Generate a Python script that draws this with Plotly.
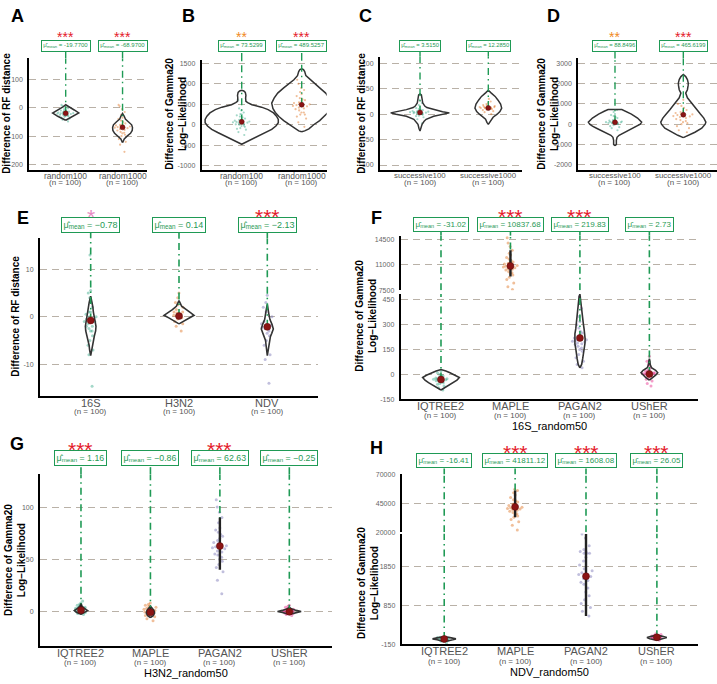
import plotly.graph_objects as go

W, H = 717, 684
def PX(x): return x / W
def PY(y): return 1 - y / H

FONT = "Liberation Sans, Arial, sans-serif"
GREEN = "#1f9a55"
MEANRED = "#8b1414"
OUTLINE = "#333333"
GRID = "#b9b1a7"
STAR_COLORS = {"***": "#e41a2a", "**": "#f08a24", "*": "#e78ac3", "": "#000"}
PT_COLORS = ["rgba(27,158,119,0.4)", "rgba(217,95,2,0.4)", "rgba(117,112,179,0.45)", "rgba(231,41,138,0.45)"]
TXT_SHIFT = -1.0  # visual centring of annotation text

# ---------------- data ----------------
A_categories = ["random100", "random1000"]
A_means = [-19.77, -68.97]
A_labels = ["-19.7700", "-68.9700"]
A_stars = ["***", "***"]
A_points = [
    [-48, -42, -38, -35, -32, -30, -28, -26, -25, -24, -22, -21, -20, -19, -18, -17, -16, -15, -14, -12, -10, -8, -5, -2, 2, 6, 10, -30, -22, -12],
    [-155, -130, -120, -110, -100, -95, -90, -85, -80, -78, -75, -72, -70, -68, -66, -64, -62, -60, -58, -55, -50, -45, -40, -35, -25, -15, -5, 5, 10, -88],
]
A_vy = [[-44, -40, -30, -18.5, -8, 4, 10.5],
        [-123, -110, -100, -90, -80, -70, -60, -50, -40, -30, -20]]
A_vw = [[0, 0.04, 0.14, 0.23, 0.15, 0.04, 0],
        [0, 0.03, 0.08, 0.14, 0.17, 0.175, 0.16, 0.11, 0.05, 0.03, 0]]

B_categories = ["random100", "random1000"]
B_means = [73.5299, 489.5257]
B_labels = ["73.5299", "489.5257"]
B_stars = ["**", "***"]
B_points = [
    [-250, -180, -120, -80, -50, -20, 0, 20, 40, 60, 80, 100, 120, 150, 180, 200, 230, 260, 300, 350, 400, -100, 10, 70, 130, -30, 50, 90, 250, 600],
    [-50, 60, 150, 200, 250, 300, 350, 380, 420, 450, 480, 500, 520, 550, 580, 600, 650, 700, 750, 800, 850, 900, 1000, 1100, 400, 460, 530, 620, 300, 250],
]
B_vy = [[-477, -420, -350, -273, -190, -113, -30, 48, 130, 210, 290, 370, 430, 491, 540, 573, 650, 720, 790, 825, 840],
        [-170, -150, -100, 0, 100, 200, 300, 400, 530, 650, 774, 900, 1016, 1100, 1200, 1300, 1350, 1370]]
B_vw = [[0, 0.08, 0.18, 0.28, 0.4, 0.5, 0.57, 0.61, 0.61, 0.58, 0.53, 0.44, 0.33, 0.17, 0.1, 0.07, 0.065, 0.07, 0.06, 0.035, 0],
        [0, 0.05, 0.12, 0.2, 0.3, 0.38, 0.44, 0.48, 0.5, 0.46, 0.4, 0.3, 0.21, 0.13, 0.07, 0.05, 0.03, 0]]

C_categories = ["successive100", "successive1000"]
C_means = [3.515, 12.285]
C_labels = ["3.5150", "12.2850"]
C_stars = ["", ""]
C_points = [
    [-18, -10, -6, -3, -1, 0, 1, 2, 3, 3, 4, 5, 5, 6, 7, 8, 10, 12, 14, 18, 22, 28, 2, 4, 0, 6, -4, 9],
    [0, 4, 6, 8, 10, 11, 12, 12, 13, 14, 15, 16, 18, 20, 22, 25, 30, 9, 13, 17, 11, 14],
]
C_vy = [[-33, -28, -20, -14, -10, -4, 0, 2.6, 5, 9, 13, 16, 22, 30, 38, 40],
        [-20, -16, -10, -6, 0, 5, 12, 20, 28, 35, 42, 47]]
C_vw = [[0, 0.015, 0.03, 0.06, 0.09, 0.2, 0.35, 0.43, 0.33, 0.2, 0.1, 0.07, 0.04, 0.03, 0.02, 0],
        [0, 0.02, 0.04, 0.07, 0.13, 0.17, 0.196, 0.18, 0.14, 0.1, 0.04, 0]]

D_categories = ["successive100", "successive1000"]
D_means = [88.8496, 465.6199]
D_labels = ["88.8496", "465.6199"]
D_stars = ["**", "***"]
D_points = [
    [-300, -200, -100, -50, 0, 20, 40, 60, 80, 100, 120, 150, 200, 250, 300, 350, 400, 450, 500, 600, 700, 10, 90, 180, -150, 70, 130],
    [-400, -300, -200, -100, 0, 50, 100, 200, 250, 300, 350, 400, 450, 500, 550, 600, 650, 700, 800, 900, 1000, 1200, 150, 380, 480],
]
D_vy = [[-1070, -1000, -800, -650, -550, -400, -200, -100, 0, 100, 300, 500, 650, 718, 730],
        [-665, -550, -400, -200, 0, 100, 300, 500, 700, 900, 1046, 1300, 1535, 1700, 1900, 2023, 2200, 2350, 2450]]
D_vw = [[0, 0.02, 0.02, 0.03, 0.06, 0.15, 0.27, 0.33, 0.37, 0.39, 0.33, 0.24, 0.15, 0.1, 0],
        [0, 0.08, 0.17, 0.27, 0.32, 0.33, 0.3, 0.25, 0.2, 0.15, 0.12, 0.06, 0.035, 0.06, 0.07, 0.073, 0.06, 0.035, 0]]

E_categories = ["16S", "H3N2", "NDV"]
E_means = [-0.78, 0.14, -2.13]
E_labels = ["\u22120.78", "0.14", "\u22122.13"]
E_stars = ["*", "", "***"]
E_points = [
    [-14.6, -8, -7, -6, -5, -4, -3, -2.5, -2, -1.5, -1, -0.5, 0, 0.5, 1, 2, 3, 4, 5, 5.5, 13, -2, -1, 0, 1, -3],
    [-3, -2, -1.5, -1, -0.5, 0, 0, 0.3, 0.5, 1, 1, 1.5, 2, 2.5, 3, 4, 5, 0.2, 0.8, -0.2],
    [-14, -9, -8, -6, -5, -4, -3.5, -3, -2.5, -2, -2, -1.5, -1, 0, 1, 2, 3, 4.5, -2.2, -1.8],
]
E_vy = [[-8.2, -7, -6, -5, -4, -3, -2, -1, 0, 1, 2, 3, 4.3],
        [-1.5, -0.9, -0.3, 0.3, 0.84, 1.5, 2.2, 2.8, 3.4],
        [-8.2, -7, -6, -5, -4.2, -3.5, -2.6, -1.6, -0.6, 0.5, 1.5, 2.6]]
E_vw = [[0, 0.012, 0.018, 0.027, 0.042, 0.056, 0.06, 0.05, 0.038, 0.03, 0.025, 0.017, 0],
        [0, 0.057, 0.11, 0.17, 0.13, 0.075, 0.03, 0.015, 0],
        [0, 0.01, 0.014, 0.02, 0.035, 0.05, 0.068, 0.053, 0.03, 0.018, 0.012, 0]]
E_boxes = [None, None, None]

F_categories = ["IQTREE2", "MAPLE", "PAGAN2", "UShER"]
F_means = [-31.02, 10837.68, 219.83, 2.73]
F_labels = ["-31.02", "10837.68", "219.83", "2.73"]
F_stars = ["", "***", "***", ""]
F_points = [
    [-95, -80, -70, -60, -55, -50, -45, -40, -38, -35, -32, -30, -28, -25, -22, -20, -15, -10, -5, 0, 10, 20, -33, -27, -42],
    [7600, 8000, 8500, 9000, 9300, 9600, 9900, 10100, 10300, 10500, 10700, 10800, 10900, 11000, 11100, 11200, 11400, 11600, 11800, 12000, 12300, 12600, 13000, 13500, 14000, 14700, 10600, 11300, 10400, 9800],
    [40, 60, 80, 100, 120, 140, 150, 160, 170, 180, 190, 200, 210, 220, 230, 240, 250, 260, 280, 300, 320, 350, 400, 470, 195, 215, 205, 185],
    [-70, -55, -40, -30, -20, -10, -5, 0, 3, 5, 8, 10, 15, 20, 25, 30, 40, 50, 60, 80, 110, 0, 2, -2, 6],
]
F_vy = [[-94.5, -85, -70, -50, -35, -18.5, -5, 10, 20, 29],
        [],
        [39, 60, 95, 130, 155, 185, 215, 245, 275, 304, 340, 384, 430, 470, 485],
        [-35, -20, -5, 10, 25, 40, 60, 80, 95]]
F_vw = [[0, 0.04, 0.1, 0.18, 0.23, 0.264, 0.21, 0.13, 0.07, 0],
        [],
        [0, 0.025, 0.04, 0.055, 0.06, 0.072, 0.075, 0.072, 0.06, 0.05, 0.04, 0.03, 0.02, 0.012, 0],
        [0, 0.05, 0.09, 0.12, 0.09, 0.03, 0.012, 0.008, 0]]
F_boxes = [None, (9400, 13000), None, None]

G_categories = ["IQTREE2", "MAPLE", "PAGAN2", "UShER"]
G_means = [1.16, -0.86, 62.63, -0.25]
G_labels = ["1.16", "\u22120.86", "62.63", "\u22120.25"]
G_stars = ["***", "", "***", ""]
G_points = [
    [-3, -2, -1, 0, 0.5, 1, 1, 1.5, 2, 2, 2.5, 3, 3.5, 4, 5, 6, 7, 8, 10, 1.2, 0.8],
    [-9, -7, -5, -4, -3, -2, -2, -1, -1, 0, 0, 1, 2, 3, 4, 5, 6, 7, 8, -0.5],
    [17, 30, 38, 42, 45, 48, 50, 52, 54, 55, 57, 58, 60, 61, 62, 63, 65, 66, 68, 70, 72, 74, 76, 78, 80, 85, 90, 95, 100, 107],
    [-4, -3, -2, -1.5, -1, -0.5, 0, 0, 0, 0.5, 1, 1, 1.5, 2, 3, 4, 5, 6, -0.2, 0.2],
]
G_vy = [[-2.8, -1, 0.8, 3, 5.4, 8],
        [-6, -4, -1.5, 1, 3.5, 5],
        [],
        [-2.8, -1, 0, 1, 2.5, 4]]
G_vw = [[0, 0.06, 0.096, 0.05, 0.01, 0],
        [0, 0.04, 0.06, 0.05, 0.02, 0],
        [],
        [0, 0.1, 0.17, 0.1, 0.03, 0]]
G_boxes = [(-2, 7), (-4, 4), (40, 90), None]

H_categories = ["IQTREE2", "MAPLE", "PAGAN2", "UShER"]
H_means = [-16.41, 41811.12, 1608.08, 26.05]
H_labels = ["-16.41", "41811.12", "1608.08", "26.05"]
H_stars = ["", "***", "***", "***"]
H_points = [
    [-120, -80, -60, -40, -30, -20, -15, -10, -5, 0, 10, 20, 30, -25, -18],
    [22000, 26000, 29000, 31000, 33000, 34000, 35000, 36000, 37000, 38000, 39000, 40000, 41000, 42000, 43000, 44000, 45000, 46000, 47000, 48000, 50000, 52000, 54000, 56000, 57000, 39500, 40500, 41500],
    [580, 700, 800, 900, 1000, 1100, 1200, 1300, 1400, 1500, 1550, 1600, 1650, 1700, 1800, 1900, 2000, 2100, 2200, 2200, 2200, 2250, 2250, 2300, 2400, 2600, 2700, 1450, 1750],
    [-50, -20, 0, 10, 15, 20, 25, 30, 35, 40, 50, 60, 80, 100, 120, 22, 28],
]
H_vy = [[-90, -40, -16, 10, 47], [], [], [-50, -10, 20, 50, 85]]
H_vw = [[0, 0.1, 0.165, 0.1, 0], [], [], [0, 0.1, 0.14, 0.08, 0]]
H_boxes = [None, (33000, 56000), (580, 2700), None]

N_LABEL = "(n = 100)"

# ---------------- layout geometry ----------------
panels = [
    dict(letter="A", letter_xy=(17, 12), cats=A_categories, means=A_means, labels=A_labels, stars=A_stars,
         points=A_points, vy=A_vy, vw=A_vw, boxes=[None, None], xid="x", xdom=(29.3, 147), xr=(-0.64, 1.43),
         ysegs=[("y", (167.3, 55), (-217.4, 173.2), [-200, -100, 0, 100])],
         big=False, lab_font=6.0, cat_font=8.5, star_py=30, lab_py=42.7, cat_py=174.3, n_py=181.7, xtitle=None,
         ytitle="Difference of RF distance", ytitle_xy=(7, 111)),
    dict(letter="B", letter_xy=(188, 12), cats=B_categories, means=B_means, labels=B_labels, stars=B_stars,
         points=B_points, vy=B_vy, vw=B_vw, boxes=[None, None], xid="x2", xdom=(201.7, 326.7), xr=(-0.667, 1.417),
         ysegs=[("y2", (167.3, 56.7), (-1096, 1580), [-1000, -500, 0, 500, 1000, 1500])],
         big=False, lab_font=6.0, cat_font=8.5, star_py=30, lab_py=42.7, cat_py=174.3, n_py=181.7, xtitle=None,
         ytitle="Difference of Gamma20<br>Log\u2212Likelihood", ytitle_xy=(176, 111)),
    dict(letter="C", letter_xy=(365, 12), cats=C_categories, means=C_means, labels=C_labels, stars=C_stars,
         points=C_points, vy=C_vy, vw=C_vw, boxes=[None, None], xid="x3", xdom=(380, 521.7), xr=(-0.586, 1.489),
         ysegs=[("y3", (167.3, 53.3), (-109, 113), [-100, -50, 0, 50, 100])],
         big=False, lab_font=5.8, cat_font=7.9, star_py=30, lab_py=42.7, cat_py=174.3, n_py=181.7, xtitle=None,
         ytitle="Difference of RF distance", ytitle_xy=(362, 111)),
    dict(letter="D", letter_xy=(553, 12), cats=D_categories, means=D_means, labels=D_labels, stars=D_stars,
         points=D_points, vy=D_vy, vw=D_vw, boxes=[None, None], xid="x4", xdom=(578.3, 717), xr=(-0.537, 1.493),
         ysegs=[("y4", (167.3, 55), (-2243, 3245), [-2000, -1000, 0, 1000, 2000, 3000])],
         big=False, lab_font=5.8, cat_font=7.9, star_py=30, lab_py=42.7, cat_py=174.3, n_py=181.7, xtitle=None,
         ytitle="Difference of Gamma20<br>Log\u2212Likelihood", ytitle_xy=(548, 111)),
    dict(letter="E", letter_xy=(23, 216.7), cats=E_categories, means=E_means, labels=E_labels, stars=E_stars,
         points=E_points, vy=E_vy, vw=E_vw, boxes=E_boxes, xid="x5", xdom=(40, 318), xr=(-0.574, 2.574),
         ysegs=[("y5", (395.7, 236.7), (-16.6, 16.5), [-10, 0, 10])],
         big=True, lab_font=9.0, cat_font=11, star_py=210, lab_py=223, cat_py=404.3, n_py=412.5, xtitle=None,
         ytitle="Difference of RF distance", ytitle_xy=(16, 316), jit=0.16),
    dict(letter="F", letter_xy=(376.7, 216.7), cats=F_categories, means=F_means, labels=F_labels, stars=F_stars,
         points=F_points, vy=F_vy, vw=F_vw, boxes=F_boxes, xid="x6", xdom=(400.7, 698), xr=(-0.58, 3.70),
         ysegs=[("y6", (399.3, 293), (-150, 485.8), [-150, 0, 150, 300, 450]),
                ("y7", (289.3, 234), (7500, 15003), [7500, 11000, 14500])],
         big=True, lab_font=8.0, cat_font=11, star_py=210, lab_py=222.7, cat_py=406.7, n_py=416.7, xtitle=("16S_random50", 427.7),
         ytitle="Difference of Gamma20<br>Log\u2212Likelihood", ytitle_xy=(366, 315), jit=0.22),
    dict(letter="G", letter_xy=(16.7, 445), cats=G_categories, means=G_means, labels=G_labels, stars=G_stars,
         points=G_points, vy=G_vy, vw=G_vw, boxes=G_boxes, xid="x7", xdom=(40, 331.7), xr=(-0.59, 3.61),
         ysegs=[("y8", (648.3, 475), (-32.8, 131.6), [0, 50, 100])],
         big=True, lab_font=8.8, cat_font=11, star_py=445, lab_py=459, cat_py=656.7, n_py=666, xtitle=("H3N2_random50", 676.7),
         ytitle="Difference of Gamma20<br>Log\u2212Likelihood", ytitle_xy=(15, 561.7), jit=0.22),
    dict(letter="H", letter_xy=(376.7, 448.3), cats=H_categories, means=H_means, labels=H_labels, stars=H_stars,
         points=H_points, vy=H_vy, vw=H_vw, boxes=H_boxes, xid="x8", xdom=(401.7, 698), xr=(-0.60, 3.58),
         ysegs=[("y9", (646.7, 535), (-150, 2714), [-150, 850, 1850]),
                ("y10", (533.7, 475), (20000, 70000), [20000, 45000, 70000])],
         big=True, lab_font=8.0, cat_font=11, star_py=447.7, lab_py=461.7, cat_py=655, n_py=665, xtitle=("NDV_random50", 676),
         ytitle="Difference of Gamma20<br>Log\u2212Likelihood", ytitle_xy=(368, 585), jit=0.22),
]

fig = go.Figure()
layout_axes = {}
annotations = []
shapes = []

def axkey(aid):
    return ("xaxis" if aid[0] == "x" else "yaxis") + aid[1:]

for p in panels:
    big = p["big"]
    xid = p["xid"]
    low_yid = p["ysegs"][0][0]
    layout_axes[axkey(xid)] = dict(
        domain=[PX(p["xdom"][0]), PX(p["xdom"][1])], range=list(p["xr"]), anchor=low_yid,
        showgrid=False, zeroline=False, showline=True, linecolor="black", linewidth=2,
        showticklabels=False, ticks="", fixedrange=True)
    for (yid, (pb, pt), yr, tv) in p["ysegs"]:
        layout_axes[axkey(yid)] = dict(
            domain=[PY(pb), PY(pt)], range=list(yr), anchor=xid,
            showgrid=True, gridcolor=GRID, griddash="7px,5px", gridwidth=1.3,
            zeroline=False, showline=True, linecolor="black", linewidth=2,
            tickvals=tv, ticktext=[str(v) for v in tv], ticks="", ticklabelstandoff=3,
            tickfont=dict(size=7, color="#666666", family=FONT), fixedrange=True)

    seg_info = [(yid, yr) for (yid, _, yr, _) in p["ysegs"]]
    top_py = p["ysegs"][-1][1][1]
    jit = p.get("jit", 0.3)
    lw = 1.6 if big else 1.5

    def seg_of(v):
        sel = seg_info[0][0]
        for yid, yr in seg_info:
            if v >= yr[0]:
                sel = yid
        return sel

    for i, cat in enumerate(p["cats"]):
        m = p["means"][i]
        mseg = seg_of(m)
        # points, split by segment
        for yid, yr in seg_info:
            vals = [v for v in p["points"][i] if seg_of(v) == yid]
            if vals:
                fig.add_trace(go.Box(
                    x=[i] * len(vals), y=vals, xaxis=xid, yaxis=yid, width=jit, jitter=1, pointpos=0,
                    boxpoints="all", fillcolor="rgba(0,0,0,0)", line=dict(width=0, color="rgba(0,0,0,0)"),
                    marker=dict(size=3 if big else 2.2, color=PT_COLORS[i], line=dict(width=0)),
                    showlegend=False, hoverinfo="skip"))
        # violin outline
        vy, vw = p["vy"][i], p["vw"][i]
        if vy:
            xs = [i + w for w in vw] + [i - w for w in reversed(vw)]
            ys = list(vy) + list(reversed(vy))
            fig.add_trace(go.Scatter(x=xs, y=ys, xaxis=xid, yaxis=mseg, mode="lines",
                                     line=dict(color=OUTLINE, width=lw), showlegend=False, hoverinfo="skip"))
        # green dash-dot line from the mean up to the label
        started = False
        for yid, yr in seg_info:
            if yid == mseg:
                started = True
                y0 = m
            elif started:
                y0 = yr[0]
            else:
                continue
            fig.add_trace(go.Scatter(x=[i, i], y=[y0, yr[1]], xaxis=xid, yaxis=yid, mode="lines",
                                     line=dict(color=GREEN, width=1.6 if big else 1.4, dash="7px,4px,1.5px,4px"),
                                     showlegend=False, hoverinfo="skip"))
        box_half = 7.5 if big else 4.5
        shapes.append(dict(type="line", xref=xid, yref="paper", x0=i, x1=i,
                           y0=PY(top_py), y1=PY(p["lab_py"] + box_half),
                           line=dict(color=GREEN, width=1.6 if big else 1.4, dash="7px,4px,1.5px,4px")))
        # box-like black bar
        b = p["boxes"][i]
        if b:
            fig.add_trace(go.Scatter(x=[i, i], y=list(b), xaxis=xid, yaxis=seg_of(b[0]), mode="lines",
                                     line=dict(color="#222222", width=2.4), showlegend=False, hoverinfo="skip"))
        # mean
        fig.add_trace(go.Scatter(x=[i], y=[m], xaxis=xid, yaxis=mseg, mode="markers",
                                 marker=dict(size=7 if big else 5, color=MEANRED, line=dict(width=0.5, color="#5a0a0a")),
                                 showlegend=False, hoverinfo="skip"))
        # label box
        annotations.append(dict(
            xref=xid, yref="paper", x=i, y=PY(p["lab_py"]), xanchor="center", yanchor="middle",
            text="\u03bc\u0302<sub>mean</sub> = " + p["labels"][i], showarrow=False,
            font=dict(size=p["lab_font"], color=GREEN, family=FONT), bgcolor="white",
            bordercolor=GREEN, borderwidth=1, borderpad=1.6 if big else 1.2))
        # stars
        st = p["stars"][i]
        if st:
            ssz = 21 if big else 14
            annotations.append(dict(
                xref=xid, yref="paper", x=i, y=PY(p["star_py"] + 0.24 * ssz), xanchor="center", yanchor="middle",
                text=st, showarrow=False, font=dict(size=ssz, color=STAR_COLORS[st], family=FONT)))
        # category labels
        annotations.append(dict(
            xref=xid, yref="paper", x=i, y=PY(p["cat_py"] + TXT_SHIFT), xanchor="center", yanchor="middle",
            text=cat, showarrow=False, font=dict(size=p["cat_font"], color="#555555", family=FONT)))
        annotations.append(dict(
            xref=xid, yref="paper", x=i, y=PY(p["n_py"] + TXT_SHIFT), xanchor="center", yanchor="middle",
            text=N_LABEL, showarrow=False, font=dict(size=8, color="#555555", family=FONT)))

    # panel letter
    annotations.append(dict(xref="paper", yref="paper", x=PX(p["letter_xy"][0]), y=PY(p["letter_xy"][1]),
                            xanchor="center", yanchor="middle", text="<b>" + p["letter"] + "</b>",
                            showarrow=False, font=dict(size=18, color="black", family=FONT)))
    # y title
    annotations.append(dict(xref="paper", yref="paper", x=PX(p["ytitle_xy"][0]), y=PY(p["ytitle_xy"][1]),
                            xanchor="center", yanchor="middle", textangle=-90, text="<b>" + p["ytitle"] + "</b>",
                            showarrow=False, font=dict(size=10, color="black", family=FONT)))
    # x title
    if p["xtitle"]:
        xc = (p["xdom"][0] + p["xdom"][1]) / 2
        annotations.append(dict(xref="paper", yref="paper", x=PX(xc), y=PY(p["xtitle"][1] + TXT_SHIFT),
                                xanchor="center", yanchor="middle", text=p["xtitle"][0],
                                showarrow=False, font=dict(size=11, color="black", family=FONT)))

fig.update_layout(
    width=W, height=H, autosize=False, margin=dict(l=0, r=0, t=0, b=0),
    paper_bgcolor="white", plot_bgcolor="white", showlegend=False,
    font=dict(family=FONT), annotations=annotations, shapes=shapes, **layout_axes)

# remove the default 8px page margin so the figure sits at the window's top-left corner
fig.write_html("out.html", config={"displayModeBar": False},
               post_script="document.body.style.margin='0';document.body.style.overflow='hidden';")
